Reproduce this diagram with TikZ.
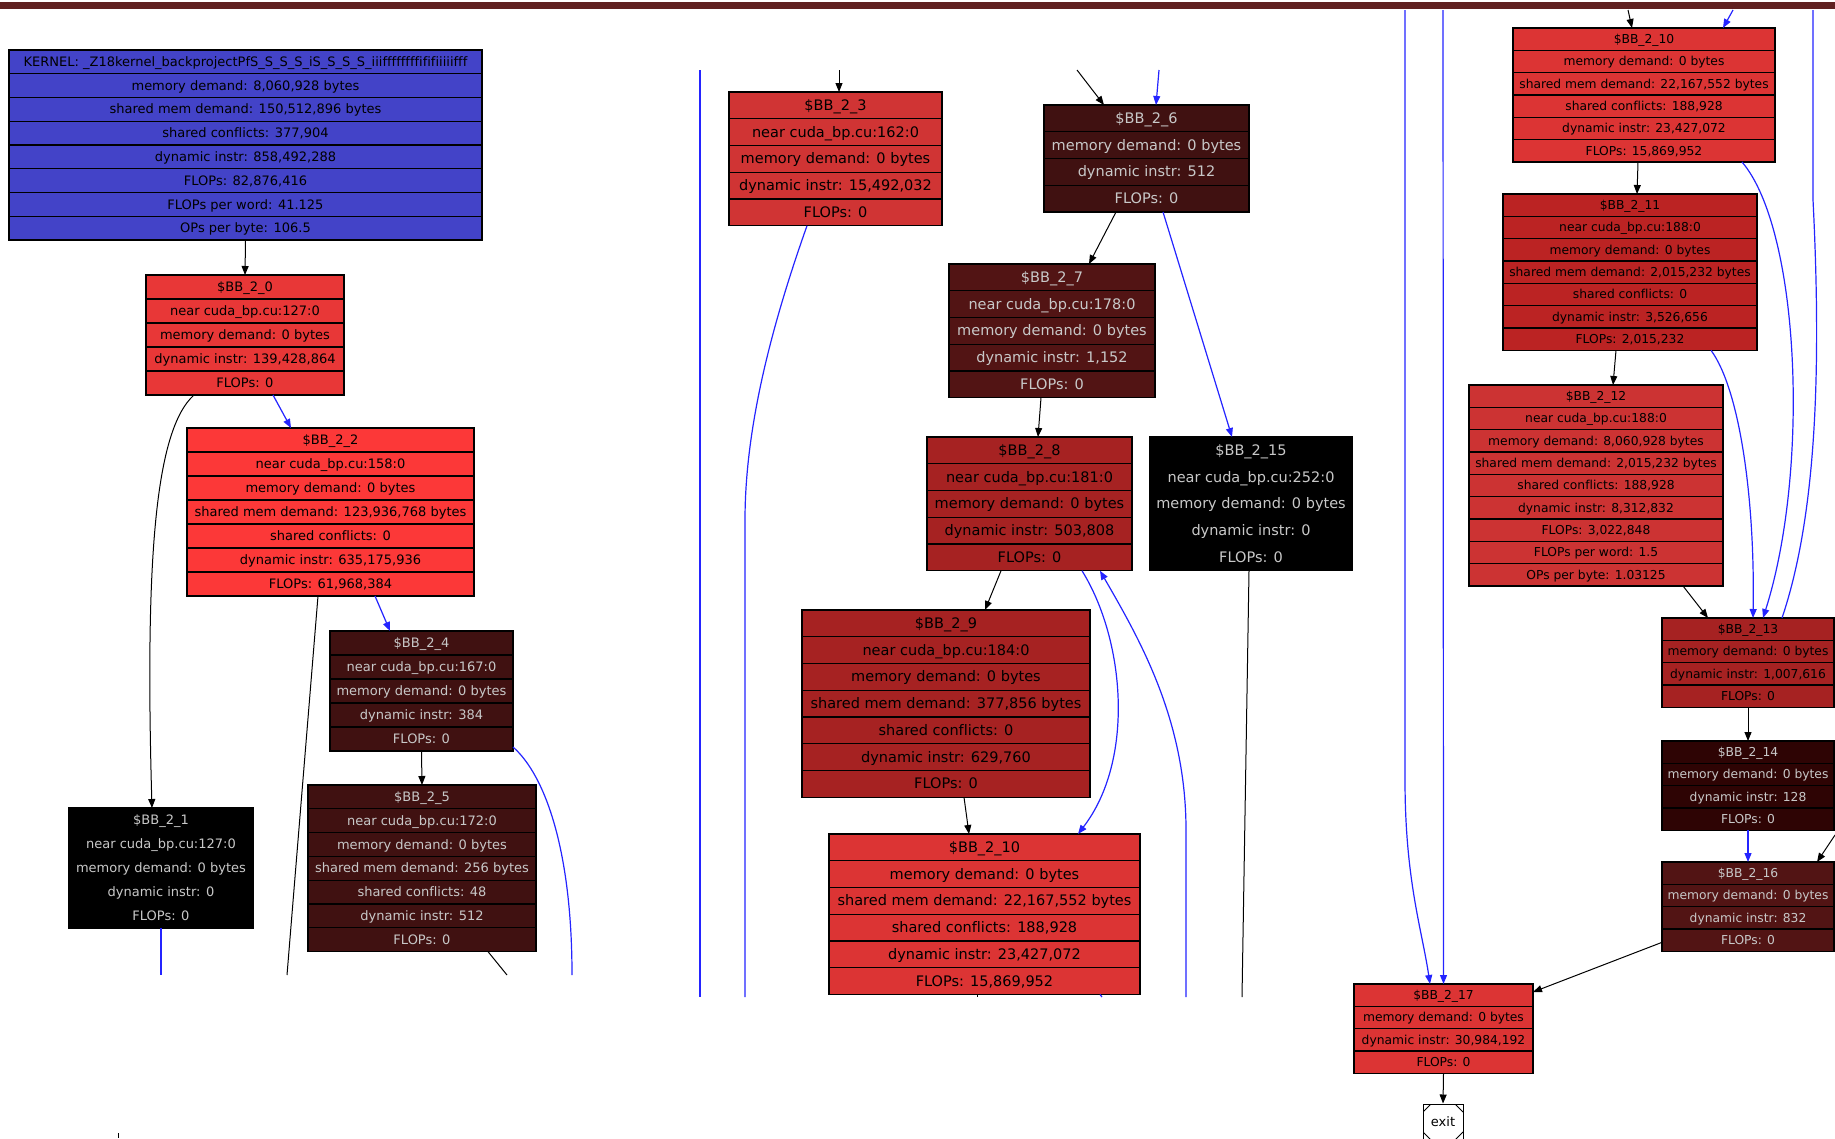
\documentclass[tikz,border=0pt]{standalone}
\usepackage{fontspec}
\setmainfont{DejaVu Sans}[Ligatures=NoCommon]
\usepackage{tikz}
\usetikzlibrary{arrows.meta}
\definecolor{bar brown}{RGB}{96,33,33}
\definecolor{kernel blue}{RGB}{67,67,200}
\definecolor{edge blue}{RGB}{36,36,255}
\definecolor{dim grey}{RGB}{200,200,200}
\definecolor{hot red}{RGB}{252,56,56}
\definecolor{warm red}{RGB}{232,55,55}
\definecolor{mid red}{RGB}{220,52,52}
\definecolor{dull red}{RGB}{208,52,52}
\definecolor{rose red}{RGB}{204,51,51}
\definecolor{deep red}{RGB}{187,35,35}
\definecolor{brick red}{RGB}{166,34,34}
\definecolor{dark red}{RGB}{64,17,17}
\definecolor{wine}{RGB}{82,20,20}
\definecolor{black red}{RGB}{46,4,4}

\tikzset{
  bbbox/.style={draw=black, line width=1.3pt, inner sep=0pt, outer sep=0pt},
  bbrow/.style={inner sep=0pt, yshift=-1.5pt},
  bbsep/.style={black, line width=1.3pt},
  flow/.style={line width=1pt, -{Triangle[length=9pt,width=7pt]}},
  blueflow/.style={flow, edge blue, line width=1.2pt},
  flowcut/.style={line width=1pt},
  bluecut/.style={line width=1.2pt, edge blue},
  msquare/.style={draw, line width=1pt, minimum width=40pt, minimum height=36pt,
    inner sep=0pt, font=\fontsize{13}{15.6}\selectfont,
    path picture={
      \draw[line width=1pt]
        ([yshift=-8pt]path picture bounding box.north west) -- ([xshift=8pt]path picture bounding box.north west)
        ([yshift=-8pt]path picture bounding box.north east) -- ([xshift=-8pt]path picture bounding box.north east)
        ([yshift=8pt]path picture bounding box.south west) -- ([xshift=8pt]path picture bounding box.south west)
        ([yshift=8pt]path picture bounding box.south east) -- ([xshift=-8pt]path picture bounding box.south east);}}
}

% record box: name, left, top, width, row height, fill, text colour, rows
\newcommand{\bbrecord}[8]{%
  \foreach \bbrow [count=\bbk] in {#8} {\xdef\bbn{\bbk}}%
  \node[bbbox, fill=#6, anchor=north west, minimum width=#4pt,
        minimum height=\bbn*#5pt] (#1) at (#2,#3) {};
  \foreach \bbrow [count=\bbk] in {#8} {
    \path (#1.north) ++(0,{(\bbk-0.5)*#5}) node[bbrow, text=#7] {\strut\bbrow};
    \ifnum\bbk>1 \draw[bbsep] (#1.north west) ++(0,{(\bbk-1)*#5}) -- ++(#4,0);\fi
  }
}

\begin{document}
\begin{tikzpicture}[x=1pt, y=-1pt]
  \useasboundingbox (0,0) rectangle (1835,1138);
  \fill[bar brown] (0,2) rectangle (1835,9);

  % left panel
  \begin{scope}[bbrow/.append style={font=\fontsize{13}{15.6}\selectfont}]
    \bbrecord{kernel}{9}{50}{473}{23.75}{kernel blue}{black}{
      {KERNEL: \_Z18kernel\_backprojectPfS\_S\_S\_S\_iS\_S\_S\_S\_iiiffffffffififiiiiifff},
      {memory demand: 8,060,928 bytes}, {shared mem demand: 150,512,896 bytes},
      {shared conflicts: 377,904}, {dynamic instr: 858,492,288}, {FLOPs: 82,876,416},
      {FLOPs per word: 41.125}, {OPs per byte: 106.5}}
    \bbrecord{b20}{146}{275}{198}{24}{warm red}{black}{
      {\$BB\_2\_0}, {near cuda\_bp.cu:127:0}, {memory demand: 0 bytes},
      {dynamic instr: 139,428,864}, {FLOPs: 0}}
    \bbrecord{b22}{187}{428}{287}{24}{hot red}{black}{
      {\$BB\_2\_2}, {near cuda\_bp.cu:158:0}, {memory demand: 0 bytes},
      {shared mem demand: 123,936,768 bytes}, {shared conflicts: 0},
      {dynamic instr: 635,175,936}, {FLOPs: 61,968,384}}
    \bbrecord{b24}{330}{631}{183}{24}{dark red}{dim grey}{
      {\$BB\_2\_4}, {near cuda\_bp.cu:167:0}, {memory demand: 0 bytes},
      {dynamic instr: 384}, {FLOPs: 0}}
    \bbrecord{b25}{308}{785}{228}{23.8}{dark red}{dim grey}{
      {\$BB\_2\_5}, {near cuda\_bp.cu:172:0}, {memory demand: 0 bytes},
      {shared mem demand: 256 bytes}, {shared conflicts: 48},
      {dynamic instr: 512}, {FLOPs: 0}}
    \bbrecord{b21}{69}{808}{184}{24}{black}{dim grey}{
      {\$BB\_2\_1}, {near cuda\_bp.cu:127:0}, {memory demand: 0 bytes},
      {dynamic instr: 0}, {FLOPs: 0}}
  \end{scope}
  \coordinate (c22) at (287,975);
  \coordinate (c24) at (572,975);
  \coordinate (c25) at (507,975);
  \coordinate (c21) at (161,975);
  \coordinate (tickA) at (118,1133);
  \coordinate (tickB) at (118,1138);
  \draw[flow] (kernel.south) -- (b20.north);
  \draw[flow] ([xshift=48pt]b20.south west) .. controls (155,430) and (145,560) .. ([xshift=83pt]b21.north west);
  \draw[blueflow] ([xshift=127pt]b20.south west) -- ([xshift=104pt]b22.north west);
  \draw[blueflow] ([xshift=188pt]b22.south west) -- ([xshift=60pt]b24.north west);
  \draw[flowcut] ([xshift=131pt]b22.south west) -- (c22);
  \draw[flow] (b24.south) -- (b25.north);
  \draw[bluecut] ([yshift=4pt]b24.south east) .. controls (545,775) and (572,850) .. (c24);
  \draw[flowcut] ([xshift=180pt]b25.south west) -- (c25);
  \draw[bluecut] (b21.south) -- (c21);
  \draw[line width=1pt] (tickA) -- (tickB);

  % middle panel
  \begin{scope}[bbrow/.append style={font=\fontsize{14.5}{17.4}\selectfont}]
    \bbrecord{b23}{729}{92}{213}{26.75}{dull red}{black}{
      {\$BB\_2\_3}, {near cuda\_bp.cu:162:0}, {memory demand: 0 bytes},
      {dynamic instr: 15,492,032}, {FLOPs: 0}}
    \bbrecord{b26}{1044}{105}{205}{26.75}{dark red}{dim grey}{
      {\$BB\_2\_6}, {memory demand: 0 bytes}, {dynamic instr: 512}, {FLOPs: 0}}
    \bbrecord{b27}{949}{264}{206}{26.75}{wine}{dim grey}{
      {\$BB\_2\_7}, {near cuda\_bp.cu:178:0}, {memory demand: 0 bytes},
      {dynamic instr: 1,152}, {FLOPs: 0}}
    \bbrecord{b28}{927}{437}{205}{26.75}{brick red}{black}{
      {\$BB\_2\_8}, {near cuda\_bp.cu:181:0}, {memory demand: 0 bytes},
      {dynamic instr: 503,808}, {FLOPs: 0}}
    \bbrecord{b215}{1150}{437}{202}{26.75}{black}{dim grey}{
      {\$BB\_2\_15}, {near cuda\_bp.cu:252:0}, {memory demand: 0 bytes},
      {dynamic instr: 0}, {FLOPs: 0}}
    \bbrecord{b29}{802}{610}{288}{26.75}{brick red}{black}{
      {\$BB\_2\_9}, {near cuda\_bp.cu:184:0}, {memory demand: 0 bytes},
      {shared mem demand: 377,856 bytes}, {shared conflicts: 0},
      {dynamic instr: 629,760}, {FLOPs: 0}}
    \bbrecord{b210m}{829}{834}{311}{26.75}{mid red}{black}{
      {\$BB\_2\_10}, {memory demand: 0 bytes}, {shared mem demand: 22,167,552 bytes},
      {shared conflicts: 188,928}, {dynamic instr: 23,427,072}, {FLOPs: 15,869,952}}
  \end{scope}
  \coordinate (m1a) at (700,70);
  \coordinate (m1b) at (700,997);
  \coordinate (m2) at (839,70);
  \coordinate (m3) at (745,997);
  \coordinate (m4) at (1077,70);
  \coordinate (m5) at (1159,70);
  \coordinate (m6) at (1186,997);
  \coordinate (m7) at (1242,997);
  \coordinate (m8) at (977,997);
  \coordinate (m9) at (1102,997);
  \draw[bluecut] (m1a) -- (m1b);
  \draw[flow] (m2) -- ([xshift=110pt]b23.north west);
  \draw[bluecut] ([xshift=78pt]b23.south west) .. controls (770,330) and (745,430) .. (745,520) -- (m3);
  \draw[flow] (m4) -- ([xshift=60pt]b26.north west);
  \draw[blueflow] (m5) -- ([xshift=112pt]b26.north west);
  \draw[flow] ([xshift=72pt]b26.south west) -- ([xshift=140pt]b27.north west);
  \draw[blueflow] ([xshift=119pt]b26.south west) -- ([xshift=82pt]b215.north west);
  \draw[flow] ([xshift=92pt]b27.south west) -- ([xshift=111pt]b28.north west);
  \draw[flow] ([xshift=74pt]b28.south west) -- ([xshift=183pt]b29.north west);
  \draw[blueflow] ([xshift=155pt]b28.south west) .. controls (1125,640) and (1135,760) .. ([xshift=249pt]b210m.north west);
  \draw[blueflow] (m6) -- (1186,830) .. controls (1186,720) and (1140,640) .. ([xshift=173pt]b28.south west);
  \draw[flow] ([xshift=162pt]b29.south west) -- ([xshift=140pt]b210m.north west);
  \draw[flowcut] ([xshift=99pt]b215.south west) -- (m7);
  \draw[flowcut] ([xshift=148pt]b210m.south west) -- (m8);
  \draw[bluecut] ([xshift=271pt]b210m.south west) -- (m9);

  % right panel
  \begin{scope}[bbrow/.append style={font=\fontsize{12.3}{14.8}\selectfont}]
    \bbrecord{b210r}{1513}{28}{262}{22.33}{mid red}{black}{
      {\$BB\_2\_10}, {memory demand: 0 bytes}, {shared mem demand: 22,167,552 bytes},
      {shared conflicts: 188,928}, {dynamic instr: 23,427,072}, {FLOPs: 15,869,952}}
    \bbrecord{b211}{1503}{194}{254}{22.33}{deep red}{black}{
      {\$BB\_2\_11}, {near cuda\_bp.cu:188:0}, {memory demand: 0 bytes},
      {shared mem demand: 2,015,232 bytes}, {shared conflicts: 0},
      {dynamic instr: 3,526,656}, {FLOPs: 2,015,232}}
    \bbrecord{b212}{1469}{385}{254}{22.33}{rose red}{black}{
      {\$BB\_2\_12}, {near cuda\_bp.cu:188:0}, {memory demand: 8,060,928 bytes},
      {shared mem demand: 2,015,232 bytes}, {shared conflicts: 188,928},
      {dynamic instr: 8,312,832}, {FLOPs: 3,022,848}, {FLOPs per word: 1.5},
      {OPs per byte: 1.03125}}
    \bbrecord{b213}{1662}{618}{172}{22.33}{brick red}{black}{
      {\$BB\_2\_13}, {memory demand: 0 bytes}, {dynamic instr: 1,007,616}, {FLOPs: 0}}
    \bbrecord{b214}{1662}{741}{172}{22.33}{black red}{dim grey}{
      {\$BB\_2\_14}, {memory demand: 0 bytes}, {dynamic instr: 128}, {FLOPs: 0}}
    \bbrecord{b216}{1662}{862}{172}{22.33}{wine}{dim grey}{
      {\$BB\_2\_16}, {memory demand: 0 bytes}, {dynamic instr: 832}, {FLOPs: 0}}
    \bbrecord{b217}{1354}{984}{179}{22.33}{mid red}{black}{
      {\$BB\_2\_17}, {memory demand: 0 bytes}, {dynamic instr: 30,984,192}, {FLOPs: 0}}
  \end{scope}
  \node[msquare] (exit) at (1443,1122) {exit};
  \coordinate (r1) at (1405,10);
  \coordinate (r2) at (1443,10);
  \coordinate (r3) at (1628,10);
  \coordinate (r4) at (1733,10);
  \coordinate (r5) at (1813,10);
  \coordinate (r6) at (1835,835);
  \draw[blueflow] (r1) -- (1405,780) .. controls (1405,880) and (1422,930) .. ([xshift=76pt]b217.north west);
  \draw[blueflow] (r2) -- (b217.north);
  \draw[flow] (r3) -- ([xshift=119pt]b210r.north west);
  \draw[blueflow] (r4) -- ([xshift=210pt]b210r.north west);
  \draw[flow] ([xshift=125pt]b210r.south west) -- ([xshift=134pt]b211.north west);
  \draw[blueflow] ([xshift=229pt]b210r.south west) .. controls (1800,230) and (1810,470) .. ([xshift=101pt]b213.north west);
  \draw[flow] ([xshift=113pt]b211.south west) -- ([xshift=144pt]b212.north west);
  \draw[blueflow] ([xshift=208pt]b211.south west) .. controls (1740,390) and (1755,500) .. ([xshift=91pt]b213.north west);
  \draw[bluecut] ([xshift=120pt]b213.north west) .. controls (1815,520) and (1822,380) .. (1813,200) -- (r5);
  \draw[flow] ([xshift=214pt]b212.south west) -- ([xshift=46pt]b213.north west);
  \draw[flow] (b213.south) -- (b214.north);
  \draw[blueflow] (b214.south) -- (b216.north);
  \draw[flow] (r6) -- ([xshift=155pt]b216.north west);
  \draw[flow] ([yshift=9pt]b216.south west) -- ([yshift=-8pt]b217.north east);
  \draw[flow] (b217.south) -- (exit.north);
\end{tikzpicture}
\end{document}
